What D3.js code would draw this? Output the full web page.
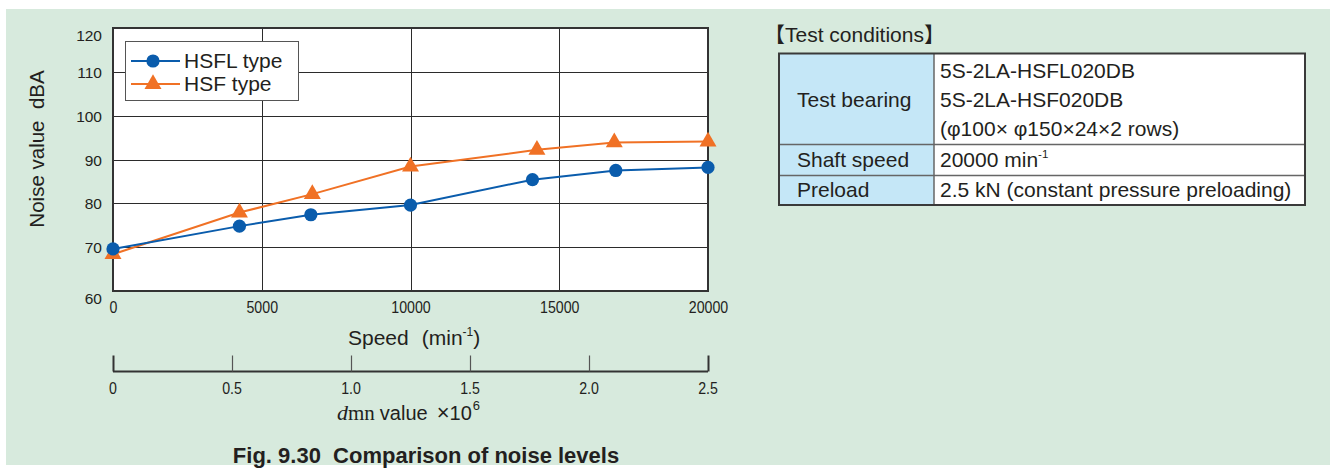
<!DOCTYPE html>
<html>
<head>
<meta charset="utf-8">
<script src="https://cdn.jsdelivr.net/npm/d3@7"></script>
<style>
  html, body { margin: 0; padding: 0; background: #ffffff; }
  svg { display: block; }
  text { font-family: "Liberation Sans", Arial, "Noto Sans CJK JP", sans-serif; fill: #231f20; }
</style>
</head>
<body>
<svg id="chart" width="1330" height="468"></svg>
<script>
// Noise level vs. spindle speed, two bearing types
const speedHSFL = [0, 4250, 6650, 10000, 14100, 16900, 20000];
const noiseHSFL = [69.6, 74.8, 77.4, 79.6, 85.4, 87.5, 88.2];
const speedHSF  = [0, 4250, 6700, 10000, 14250, 16850, 20000];
const noiseHSF  = [68.4, 77.9, 82.1, 88.4, 92.2, 93.9, 94.1];

const seriesNames = ["HSFL type", "HSF type"];
const yTicks = [60, 70, 80, 90, 100, 110, 120];
const xTicks = [0, 5000, 10000, 15000, 20000];
const dmnTicks = [0, 0.5, 1.0, 1.5, 2.0, 2.5];
const dmnTickLabels = ["0", "0.5", "1.0", "1.5", "2.0", "2.5"];

// Test-condition table contents
const condLabels = ["Test bearing", "Shaft speed", "Preload"];
const condValues = [
  ["5S-2LA-HSFL020DB", "5S-2LA-HSF020DB", "(\u03c6100\u00d7 \u03c6150\u00d724\u00d72 rows)"],
  ["20000 min|-1"],
  ["2.5 kN (constant pressure preloading)"]
];

const colors = { HSFL: "#0a5cac", HSF: "#f07125" };
const NARROW = 0.86; // horizontal squeeze for the condensed tick numerals

const svg = d3.select("#chart");

// page background panel
svg.append("rect").attr("x", 6).attr("y", 9).attr("width", 1324).attr("height", 456)
  .attr("fill", "#d7eadd");

// ---- main plot ----
const plot = { left: 113, right: 708, top: 28, bottom: 291 };
const x = d3.scaleLinear().domain([0, 20000]).range([plot.left, plot.right]);
const y = d3.scaleLinear().domain([60, 120]).range([plot.bottom, plot.top]);

svg.append("rect")
  .attr("x", plot.left).attr("y", plot.top)
  .attr("width", plot.right - plot.left).attr("height", plot.bottom - plot.top)
  .attr("fill", "#ffffff");

// grid
const grid = svg.append("g").attr("stroke", "#2b2b2b").attr("stroke-width", 1);
grid.selectAll("line.h").data(yTicks.slice(1, -1)).join("line")
  .attr("x1", plot.left).attr("x2", plot.right)
  .attr("y1", d => Math.round(y(d)) + 0.5).attr("y2", d => Math.round(y(d)) + 0.5);
grid.selectAll("line.v").data(xTicks.slice(1, -1)).join("line")
  .attr("y1", plot.top).attr("y2", plot.bottom)
  .attr("x1", d => Math.round(x(d)) + 0.5).attr("x2", d => Math.round(x(d)) + 0.5);

// frame
svg.append("rect")
  .attr("x", plot.left).attr("y", plot.top)
  .attr("width", plot.right - plot.left).attr("height", plot.bottom - plot.top)
  .attr("fill", "none").attr("stroke", "#333").attr("stroke-width", 2);

// y axis labels (end labels sit a little below their gridline)
const yAxis = d3.axisLeft(y).tickValues(yTicks).tickSize(0).tickPadding(11);
svg.append("g").attr("transform", `translate(${plot.left},0)`).call(yAxis)
  .call(g => g.select(".domain").remove())
  .call(g => g.selectAll("text")
    .style("font-size", "15.5px")
    .style("font-family", "'Liberation Sans', Arial, sans-serif")
    .style("fill", "#231f20")
    .attr("dy", d => (d === 120 || d === 60) ? "0.8em" : "0.36em"));

// x axis labels (speed)
const xAxis = d3.axisBottom(x).tickValues(xTicks).tickSize(0).tickFormat(d3.format("d"));
svg.append("g").attr("transform", `translate(0,${plot.bottom})`).call(xAxis)
  .call(g => g.select(".domain").remove())
  .call(g => g.selectAll("text")
    .style("font-size", "16.5px")
    .style("font-family", "'Liberation Sans', Arial, sans-serif")
    .style("fill", "#231f20")
    .attr("y", 22).attr("dy", 0)
    .attr("transform", `scale(${NARROW},1)`));

// axis titles
svg.append("text")
  .attr("transform", "translate(44,149) rotate(-90)")
  .attr("text-anchor", "middle").attr("font-size", 20.5)
  .attr("xml:space", "preserve")
  .text("Noise value  dBA");

const speedTitle = svg.append("text").attr("x", 348).attr("y", 345).attr("font-size", 21);
speedTitle.append("tspan").text("Speed");
speedTitle.append("tspan").attr("dx", 13).text("(min");
speedTitle.append("tspan").attr("font-size", 12).attr("dy", -9).text("-1");
speedTitle.append("tspan").attr("dy", 9).text(")");

// ---- second scale: dmn value ----
const xd = d3.scaleLinear().domain([0, 2.5]).range([plot.left, plot.right]);
const dmnAxis = d3.axisTop(xd).tickValues(dmnTicks).tickSize(16).tickFormat("");
svg.append("g").attr("transform", "translate(0,371.5)").call(dmnAxis)
  .call(g => g.select(".domain").attr("d", `M${plot.left},0H${plot.right}`)
    .attr("stroke", "#333").attr("stroke-width", 2))
  .call(g => g.selectAll(".tick line").attr("stroke", "#555").attr("stroke-width", 1.2))
  .call(g => g.selectAll(".tick:first-of-type line, .tick:last-of-type line")
    .attr("stroke", "#333").attr("stroke-width", 2));
svg.append("g").selectAll("g").data(dmnTicks).join("g")
  .attr("transform", d => `translate(${xd(d)},394)`)
  .append("text")
  .attr("font-size", 16.5).attr("text-anchor", "middle")
  .attr("transform", `scale(${NARROW},1)`)
  .text((d, i) => dmnTickLabels[i]);

const dmnTitle = svg.append("text").attr("x", 337).attr("y", 420).attr("font-size", 20);
dmnTitle.append("tspan").attr("font-family", "Liberation Serif, Times New Roman, serif")
  .attr("font-style", "italic").attr("font-size", 22).text("d");
dmnTitle.append("tspan").attr("font-family", "Liberation Serif, Times New Roman, serif")
  .attr("font-size", 21).text("mn");
dmnTitle.append("tspan").attr("dx", 5).text("value");
dmnTitle.append("tspan").attr("dx", 9).attr("font-size", 22).text("\u00d7");
dmnTitle.append("tspan").text("10");
dmnTitle.append("tspan").attr("font-size", 13).attr("dy", -10).attr("dx", 1).text("6");

// figure caption
svg.append("text").attr("x", 426).attr("y", 463).attr("text-anchor", "middle")
  .attr("font-size", 22).attr("font-weight", "bold").attr("xml:space", "preserve")
  .text("Fig. 9.30  Comparison of noise levels");

// ---- series ----
const line = d3.line().x(d => x(d[0])).y(d => y(d[1]));
const hsfl = d3.zip(speedHSFL, noiseHSFL);
const hsf = d3.zip(speedHSF, noiseHSF);
const triangle = d3.symbol().type(d3.symbolTriangle).size(125);

svg.append("path").datum(hsf).attr("d", line)
  .attr("fill", "none").attr("stroke", colors.HSF).attr("stroke-width", 2);
svg.append("path").datum(hsfl).attr("d", line)
  .attr("fill", "none").attr("stroke", colors.HSFL).attr("stroke-width", 2);

svg.append("g").selectAll("path").data(hsf).join("path")
  .attr("d", triangle)
  .attr("transform", d => `translate(${x(d[0])},${y(d[1])})`)
  .attr("fill", colors.HSF);
svg.append("g").selectAll("circle").data(hsfl).join("circle")
  .attr("cx", d => x(d[0])).attr("cy", d => y(d[1])).attr("r", 6.6)
  .attr("fill", colors.HSFL);

// legend
const legend = svg.append("g");
legend.append("rect").attr("x", 125.5).attr("y", 41.5).attr("width", 173).attr("height", 59)
  .attr("fill", "#fff").attr("stroke", "#555").attr("stroke-width", 1);
const legendRows = [
  { name: seriesNames[0], color: colors.HSFL, shape: "circle", cy: 61 },
  { name: seriesNames[1], color: colors.HSF, shape: "triangle", cy: 84 }
];
legendRows.forEach(r => {
  legend.append("line").attr("x1", 131).attr("x2", 180).attr("y1", r.cy).attr("y2", r.cy)
    .attr("stroke", r.color).attr("stroke-width", 2);
  if (r.shape === "circle") {
    legend.append("circle").attr("cx", 153).attr("cy", r.cy).attr("r", 6.6).attr("fill", r.color);
  } else {
    legend.append("path").attr("d", triangle).attr("transform", `translate(153,${r.cy})`).attr("fill", r.color);
  }
  legend.append("text").attr("x", 184).attr("y", r.cy + 7).attr("font-size", 21).text(r.name);
});

// ---- test conditions table ----
svg.append("text").attr("x", 764).attr("y", 42).attr("font-size", 21).text("\u3010Test conditions\u3011");

const tbl = { left: 779, mid: 934, right: 1305 };
const rowEdges = [53.5, 144.5, 175.5, 205];
svg.append("rect").attr("x", tbl.left).attr("y", rowEdges[0])
  .attr("width", tbl.mid - tbl.left).attr("height", rowEdges[3] - rowEdges[0]).attr("fill", "#c5e7f7");
svg.append("rect").attr("x", tbl.mid).attr("y", rowEdges[0])
  .attr("width", tbl.right - tbl.mid).attr("height", rowEdges[3] - rowEdges[0]).attr("fill", "#fff");
// inner rules
svg.selectAll("line.row").data(rowEdges.slice(1, 3)).join("line")
  .attr("x1", tbl.left).attr("x2", tbl.right).attr("y1", d => d).attr("y2", d => d)
  .attr("stroke", "#666").attr("stroke-width", 1.5);
svg.append("line").attr("x1", tbl.mid).attr("x2", tbl.mid).attr("y1", rowEdges[0]).attr("y2", rowEdges[3])
  .attr("stroke", "#666").attr("stroke-width", 1.5);
svg.append("rect").attr("x", tbl.left).attr("y", rowEdges[0])
  .attr("width", tbl.right - tbl.left).attr("height", rowEdges[3] - rowEdges[0])
  .attr("fill", "none").attr("stroke", "#3a3a3a").attr("stroke-width", 2);

const labelBaselines = [107, 167, 197];
condLabels.forEach((t, i) => {
  svg.append("text").attr("x", 797).attr("y", labelBaselines[i]).attr("font-size", 21).text(t);
});
const valueBaselines = [[78, 107, 136], [167], [197]];
condValues.forEach((lines, i) => {
  lines.forEach((t, j) => {
    const txt = svg.append("text").attr("x", 940).attr("y", valueBaselines[i][j]).attr("font-size", 21);
    const parts = t.split("|");
    txt.append("tspan").text(parts[0]);
    if (parts[1]) txt.append("tspan").attr("font-size", 11.5).attr("dy", -9).text(parts[1]);
  });
});
</script>
</body>
</html>
